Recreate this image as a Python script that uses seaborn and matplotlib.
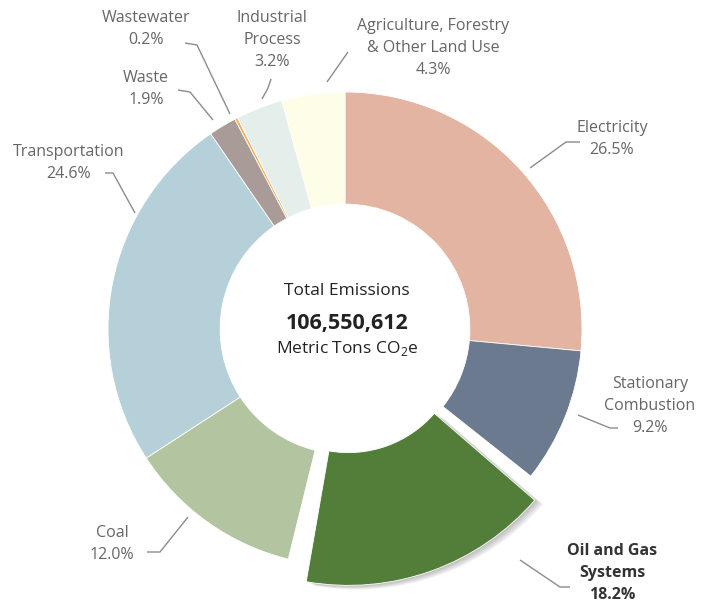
import matplotlib
matplotlib.use("Agg")
import matplotlib.pyplot as plt
import matplotlib.patheffects as pe
import seaborn as sns

# ---- data ----
categories = [
    "Electricity", "Stationary\nCombustion", "Oil and Gas\nSystems", "Coal",
    "Transportation", "Waste", "Wastewater", "Industrial\nProcess",
    "Agriculture, Forestry\n& Other Land Use",
]
shares = [26.5, 9.2, 18.2, 12.0, 24.6, 1.9, 0.2, 3.2, 4.3]
highlight = "Oil and Gas\nSystems"
total_emissions = 106550612

colors = sns.color_palette([
    "#E2B4A1", "#6B7A8F", "#537E3A", "#B3C4A1", "#B5D0D8",
    "#A99B98", "#F6AE55", "#E4EFEC", "#FEFDE7",
])

# ---- layout (pixel coords of the 712x603 canvas) ----
W, H = 712, 603
CX, CY, R = 345, 329, 237

# label block centre, leader polyline (text end first)
label_layout = {
    "Electricity": ((612, 139), [(580, 142), (566, 142), (530, 168)]),
    "Stationary\nCombustion": ((650, 406), [(618, 428), (610, 428), (578, 415)]),
    "Oil and Gas\nSystems": ((612, 573), [(570, 587), (560, 587), (520, 560)]),
    "Coal": ((112, 544), [(147, 552), (160, 552), (188, 517)]),
    "Transportation": ((69, 163), [(105, 173), (113, 173), (135, 213)]),
    "Waste": ((146, 89), [(178, 90), (190, 92), (213, 120)]),
    "Wastewater": ((146, 29), [(185, 43), (197, 45), (230, 114)]),
    "Industrial\nProcess": ((272, 40), [(271, 79), (268, 88), (262, 99)]),
    "Agriculture, Forestry\n& Other Land Use": ((433, 48), [(348, 52), (327, 82)]),
}


def px(x, y):
    return (x - CX) / R, (CY - y) / R


sns.set_theme(style="white")
plt.rcParams["font.family"] = ["Open Sans", "DejaVu Sans"]
plt.rcParams["mathtext.fontset"] = "custom"
plt.rcParams["mathtext.rm"] = "Open Sans"

fig = plt.figure(figsize=(W / 100, H / 100), dpi=100)
ax = fig.add_axes([0, 0, 1, 1])

explode = [0.044 if c == highlight else 0 for c in categories]
wedges, _ = ax.pie(
    shares, colors=colors, startangle=90, counterclock=False,
    explode=explode, radius=1,
    wedgeprops=dict(width=0.473, edgecolor="white", linewidth=0.6),
)

# pop-out highlighted wedge: a bit larger, slightly narrowed, soft shadow
hi = wedges[categories.index(highlight)]
hi.set_theta1(hi.theta1 + 4)
hi.set_theta2(hi.theta2 - 2.5)
hi.set_radius(1.04)
hi.set_width(0.56)
hi.set_zorder(5)
shadow = [pe.SimplePatchShadow(offset=(d, -0.5 * d), shadow_rgbFace="#505050", alpha=0.07)
          for d in (6, 5, 4, 3, 2, 1)]
hi.set_path_effects(shadow + [pe.Normal()])

ax.set_xlim(-CX / R, (W - CX) / R)
ax.set_ylim(-(H - CY) / R, CY / R)
ax.axis("off")

for cat, share in zip(categories, shares):
    (tx, ty), leader = label_layout[cat]
    is_hi = cat == highlight
    ax.text(*px(tx, ty), f"{cat}\n{share:.1f}%", ha="center", va="center",
            fontsize=11.5, linespacing=1.5,
            color="#333333" if is_hi else "#666666",
            fontweight="bold" if is_hi else "normal")
    pts = [px(x, y) for x, y in leader]
    ax.plot([p[0] for p in pts], [p[1] for p in pts], color="#8c8c8c", lw=1,
            solid_capstyle="butt")

# centre text
ax.text(*px(CX + 2, 291), "Total Emissions", ha="center", va="center",
        fontsize=12.5, color="#222222")
ax.text(*px(CX + 2, 323), f"{total_emissions:,}", ha="center", va="center",
        fontsize=15.5, fontweight="bold", color="#222222")
ax.text(*px(CX + 2, 349), "Metric Tons CO$_2$e", ha="center", va="center",
        fontsize=12.5, color="#222222")

fig.savefig("out.png", dpi=100)
